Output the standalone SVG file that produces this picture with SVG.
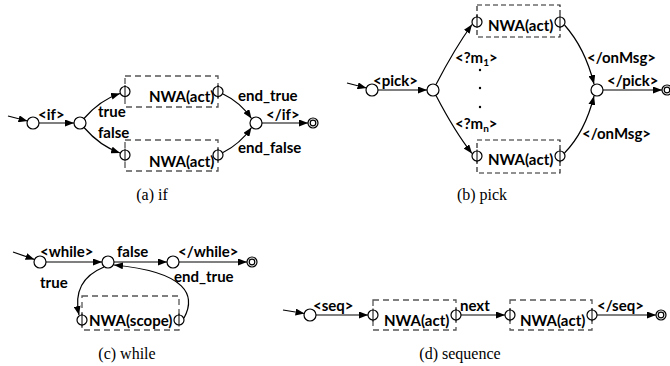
<svg xmlns="http://www.w3.org/2000/svg" width="670" height="366" viewBox="0 0 670 366">
<defs>
<marker id="ah" markerWidth="9" markerHeight="7" refX="9" refY="3.5" orient="auto" markerUnits="userSpaceOnUse">
<path d="M0,0 L9,3.5 L0,7 Z" fill="#000"/>
</marker>
<style>
.e{fill:none;stroke:#000;stroke-width:1.2;marker-end:url(#ah)}
.s{fill:#fff;stroke:#000;stroke-width:1.2}
.b{fill:none;stroke:#555;stroke-width:1.3;stroke-dasharray:6,4}
.bk{fill:none;stroke:#222;stroke-width:1.2;stroke-dasharray:5,3}
.t{stroke:#000;stroke-width:1}
.l{font-family:Lato,"Open Sans",sans-serif;font-weight:bold;font-size:15px;fill:#000}
.c{font-family:"Liberation Serif",serif;font-size:16px;fill:#000;text-anchor:middle}
.sub{font-size:10px}
</style>
</defs>
<rect width="670" height="366" fill="#fff"/>

<!-- (a) if -->
<g id="if-nodes">
<g id="a-s0"><circle class="s" cx="33" cy="123" r="6"/></g>
<g id="a-s1"><circle class="s" cx="80" cy="123" r="6"/></g>
<g id="a-box1"><rect class="b" x="125" y="76" width="93" height="31"/><text class="l" x="149" y="102">NWA(act)</text>
<circle class="s" cx="125" cy="91.5" r="5"/><line class="t" x1="125" y1="85" x2="125" y2="98"/>
<circle class="s" cx="218" cy="91.5" r="5"/><line class="t" x1="218" y1="85" x2="218" y2="98"/></g>
<g id="a-box2"><rect class="b" x="125" y="140" width="93" height="31"/><text class="l" x="149" y="167">NWA(act)</text>
<circle class="s" cx="125" cy="155" r="5"/><line class="t" x1="125" y1="148.5" x2="125" y2="161.5"/>
<circle class="s" cx="218" cy="155" r="5"/><line class="t" x1="218" y1="148.5" x2="218" y2="161.5"/></g>
<g id="a-merge"><circle class="s" cx="256" cy="123" r="6"/></g>
<g id="a-final"><circle class="s" cx="313" cy="123" r="5"/><circle class="s" cx="313" cy="123" r="2.8"/></g>
</g>

<!-- (b) pick -->
<g id="pick-nodes">
<g id="b-s0"><circle class="s" cx="372" cy="90" r="6"/></g>
<g id="b-s1"><circle class="s" cx="433" cy="90" r="6"/></g>
<g id="b-box1"><rect class="bk" x="477" y="5" width="83" height="32"/><text class="l" x="488" y="31">NWA(act)</text>
<circle class="s" cx="477" cy="22" r="5"/><line class="t" x1="477" y1="15" x2="477" y2="28"/>
<circle class="s" cx="560" cy="22" r="5"/><line class="t" x1="560" y1="15" x2="560" y2="28"/></g>
<g id="b-box2"><rect class="bk" x="477" y="140" width="83" height="33"/><text class="l" x="488" y="165">NWA(act)</text>
<circle class="s" cx="477" cy="156" r="5"/><line class="t" x1="477" y1="149.5" x2="477" y2="162.5"/>
<circle class="s" cx="560" cy="156" r="5"/><line class="t" x1="560" y1="149.5" x2="560" y2="162.5"/></g>
<g id="b-merge"><circle class="s" cx="597" cy="90" r="6"/></g>
<g id="b-final"><circle class="s" cx="667" cy="90" r="5"/><circle class="s" cx="667" cy="90" r="2.8"/></g>
</g>

<!-- (c) while -->
<g id="while-nodes">
<g id="c-s0"><circle class="s" cx="40" cy="262" r="6"/></g>
<g id="c-s1"><circle class="s" cx="108" cy="262" r="6"/></g>
<g id="c-s2"><circle class="s" cx="173" cy="262" r="6"/></g>
<g id="c-final"><circle class="s" cx="252" cy="262" r="5"/><circle class="s" cx="252" cy="262" r="2.8"/></g>
<g id="c-box"><rect class="b" x="82" y="296" width="97" height="34"/><text class="l" x="89" y="326">NWA(scope)</text>
<circle class="s" cx="82" cy="320" r="5"/><line class="t" x1="82" y1="313.5" x2="82" y2="326.5"/>
<circle class="s" cx="179" cy="320" r="5"/><line class="t" x1="179" y1="313.5" x2="179" y2="326.5"/></g>
</g>

<!-- (d) sequence -->
<g id="seq-nodes">
<g id="d-s0"><circle class="s" cx="310" cy="315" r="6"/></g>
<g id="d-box1"><rect class="b" x="373" y="300" width="83" height="30"/><text class="l" x="384" y="326">NWA(act)</text>
<circle class="s" cx="373" cy="315" r="5"/><line class="t" x1="373" y1="308.5" x2="373" y2="321.5"/>
<circle class="s" cx="456" cy="315" r="5"/><line class="t" x1="456" y1="308.5" x2="456" y2="321.5"/></g>
<g id="d-box2"><rect class="b" x="510" y="300" width="82" height="30"/><text class="l" x="520" y="326">NWA(act)</text>
<circle class="s" cx="510" cy="315" r="5"/><line class="t" x1="510" y1="308.5" x2="510" y2="321.5"/>
<circle class="s" cx="592" cy="315" r="5"/><line class="t" x1="592" y1="308.5" x2="592" y2="321.5"/></g>
<g id="d-final"><circle class="s" cx="661" cy="315" r="5"/><circle class="s" cx="661" cy="315" r="2.8"/></g>
</g>

<g id="connectors">
<!-- if -->
<path class="e" d="M8,116 L27.5,121"/>
<path class="e" d="M39,123 L74,123"/>
<path class="e" d="M84,118.5 Q100,100 120,93.5"/>
<path class="e" d="M84,127.5 Q100,146 120,153"/>
<path class="e" d="M223,94 Q240,102 251.5,118.5"/>
<path class="e" d="M223,152.5 Q240,144 251.5,127.5"/>
<path class="e" d="M262,123 L308,123"/>
<!-- pick -->
<path class="e" d="M347,83 L366.5,88"/>
<path class="e" d="M378,90 L427,90"/>
<path class="e" d="M436,84.5 Q455,48 472,24.5"/>
<path class="e" d="M436,95.5 Q455,132 472,153.5"/>
<path class="e" d="M564.5,25 Q585,48 594,84"/>
<path class="e" d="M564.5,153 Q585,132 594,96"/>
<path class="e" d="M603,90 L662,90"/>
<!-- while -->
<path class="e" d="M13,252 L34.5,259.5"/>
<path class="e" d="M46,262 L102,262"/>
<path class="e" d="M114,262 L167,262"/>
<path class="e" d="M179,262 L247,262"/>
<path class="e" d="M104,267 C82,276 74,292 79,315"/>
<path class="e" d="M184,318 C196,296 188,272 114,265"/>
<!-- seq -->
<path class="e" d="M283,310 L304.5,313.5"/>
<path class="e" d="M316,315 L368,315"/>
<path class="e" d="M461,315 L505,315"/>
<path class="e" d="M597,315 L656,315"/>
</g>

<g id="labels">
<text class="l" x="38" y="120">&lt;if&gt;</text>
<text class="l" x="98" y="117">true</text>
<text class="l" x="98" y="138">false</text>
<text class="l" x="238" y="101">end_true</text>
<text class="l" x="238" y="153">end_false</text>
<text class="l" x="266" y="120">&lt;/if&gt;</text>

<text class="l" x="373" y="86">&lt;pick&gt;</text>
<text class="l" x="455" y="63">&lt;?m<tspan class="sub" dy="3">1</tspan><tspan dy="-3">&gt;</tspan></text>
<text class="l" x="455" y="129">&lt;?m<tspan class="sub" dy="3">n</tspan><tspan dy="-3">&gt;</tspan></text>
<circle cx="480" cy="70" r="1.2"/>
<circle cx="480" cy="88" r="1.2"/>
<circle cx="480" cy="107" r="1.2"/>
<text class="l" x="587" y="63">&lt;/onMsg&gt;</text>
<text class="l" x="582" y="139">&lt;/onMsg&gt;</text>
<text class="l" x="607" y="86">&lt;/pick&gt;</text>

<text class="l" x="40" y="257">&lt;while&gt;</text>
<text class="l" x="117" y="257">false</text>
<text class="l" x="178" y="257">&lt;/while&gt;</text>
<text class="l" x="40" y="288">true</text>
<text class="l" x="174" y="282">end_true</text>

<text class="l" x="313" y="311">&lt;seq&gt;</text>
<text class="l" x="460" y="311">next</text>
<text class="l" x="597" y="311">&lt;/seq&gt;</text>

<text class="c" x="152" y="200">(a) if</text>
<text class="c" x="482" y="200">(b) pick</text>
<text class="c" x="127" y="359">(c) while</text>
<text class="c" x="460" y="359">(d) sequence</text>
</g>
</svg>
